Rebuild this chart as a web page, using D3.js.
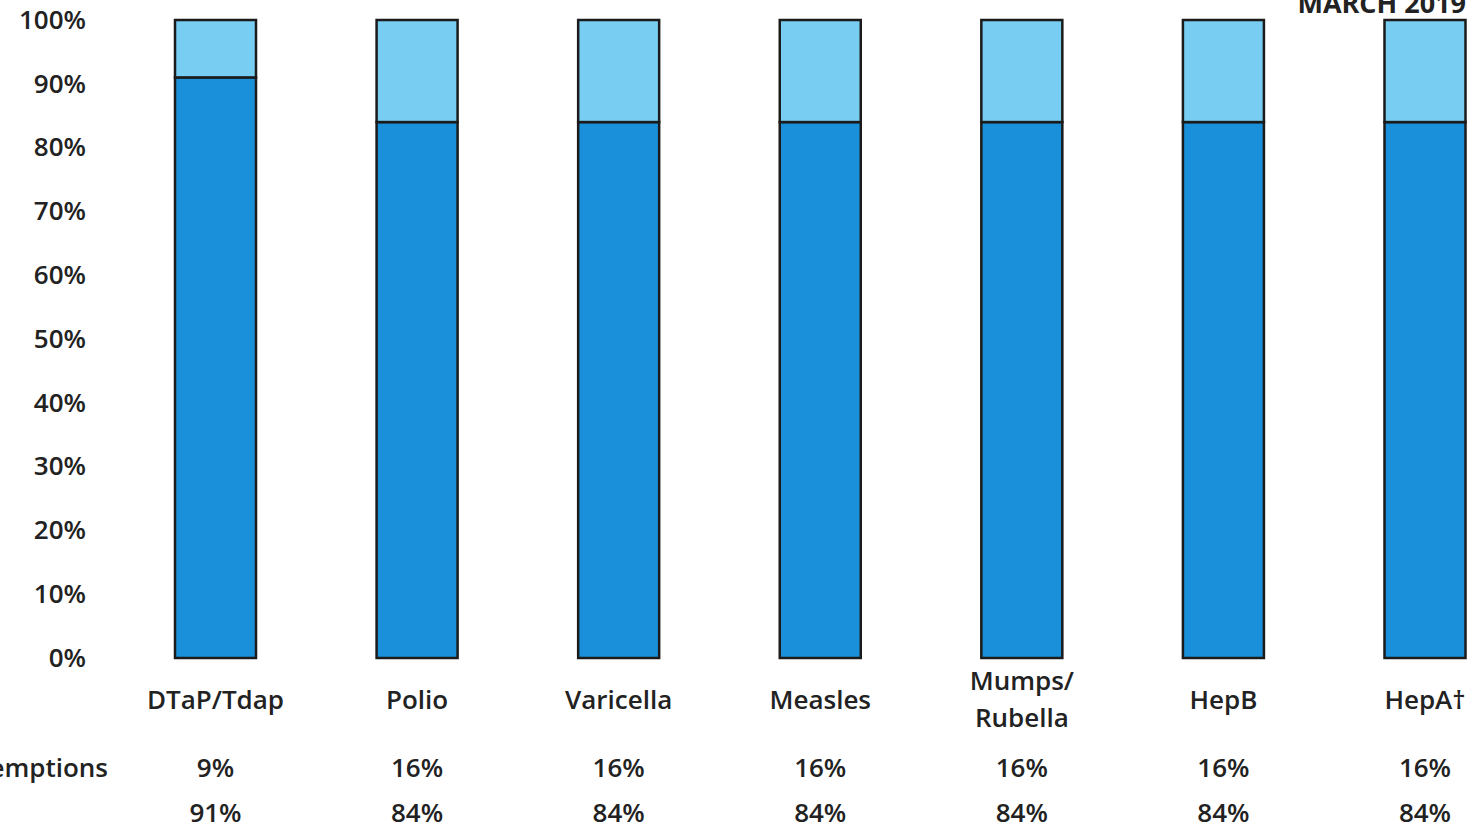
<!DOCTYPE html>
<html>
<head>
<meta charset="utf-8">
<script src="https://cdn.jsdelivr.net/npm/d3@7"></script>
<style>
  body { margin: 0; background: #fff; }
  text { font-family: "Open Sans", "Noto Sans", sans-serif; fill: #222; }
</style>
</head>
<body>
<div id="chart"></div>
<script>
// vaccines along the x axis
const vaccines = ["DTaP/Tdap", "Polio", "Varicella", "Measles", "Mumps/\nRubella", "HepB", "HepA\u2020"];
// share with exemptions and share vaccinated (per cent)
const exemptions = [9, 16, 16, 16, 16, 16, 16];
const vaccinated = [91, 84, 84, 84, 84, 84, 84];
const yTicks = [0, 10, 20, 30, 40, 50, 60, 70, 80, 90, 100];
const title = "MARCH 2019";
const rowLabels = ["Exemptions", ""];

const width = 1477, height = 831;
const fs = "26px";

const svg = d3.select("#chart").append("svg")
    .attr("width", width)
    .attr("height", height);

const x = d3.scalePoint()
    .domain(vaccines)
    .range([215.5, 1425]);
const barW = 81;

const y = d3.scaleLinear()
    .domain([0, 100])
    .range([658, 20]);

// y axis labels, no line
const yAxis = svg.append("g")
    .attr("transform", "translate(86,0)")
    .call(d3.axisLeft(y).tickValues(yTicks).tickSize(0).tickPadding(0).tickFormat(d => d + "%"));
yAxis.select(".domain").remove();
yAxis.selectAll("text")
    .style("font-size", fs)
    .style("font-weight", 600)
    .attr("fill", "#222");

const stackData = vaccines.map((v, i) => ({ name: v, vaccinated: vaccinated[i], exemptions: exemptions[i] }));
const series = d3.stack().keys(["vaccinated", "exemptions"])(stackData);
const colors = { vaccinated: "#1b90da", exemptions: "#78cdf2" };

svg.append("g").selectAll("g")
    .data(series)
    .join("g")
    .attr("fill", d => colors[d.key])
    .selectAll("rect")
    .data(d => d)
    .join("rect")
    .attr("x", d => x(d.data.name) - barW / 2)
    .attr("width", barW)
    .attr("y", d => y(d[1]))
    .attr("height", d => y(d[0]) - y(d[1]))
    .attr("stroke", "#1b1b1b")
    .attr("stroke-width", 2.5);

// category labels
const cat = svg.append("g").selectAll("text")
    .data(vaccines)
    .join("text")
    .attr("x", d => x(d))
    .attr("text-anchor", "middle")
    .style("font-size", fs)
    .style("font-weight", 600);
cat.each(function(d) {
    const lines = d.split("\n");
    const t = d3.select(this);
    const y0 = lines.length > 1 ? 690 : 709;
    lines.forEach((l, i) => {
        t.append("tspan").attr("x", x(d)).attr("y", y0 + i * 37).text(l);
    });
});

// data table rows
const rows = [exemptions, vaccinated];
const rowY = [777, 822];
rows.forEach((vals, r) => {
    svg.append("text")
        .attr("x", 108)
        .attr("y", rowY[r])
        .attr("text-anchor", "end")
        .style("font-size", fs)
        .style("font-weight", 600)
        .text(rowLabels[r]);
    svg.append("g").selectAll("text")
        .data(vals)
        .join("text")
        .attr("x", (d, i) => x(vaccines[i]))
        .attr("y", rowY[r])
        .attr("text-anchor", "middle")
        .style("font-size", fs)
        .style("font-weight", 600)
        .text(d => d + "%");
});

// title, clipped at top edge
svg.append("text")
    .attr("x", 1466)
    .attr("y", 13)
    .attr("text-anchor", "end")
    .style("font-size", "27px")
    .style("font-weight", 700)
    .text(title);
</script>
</body>
</html>
